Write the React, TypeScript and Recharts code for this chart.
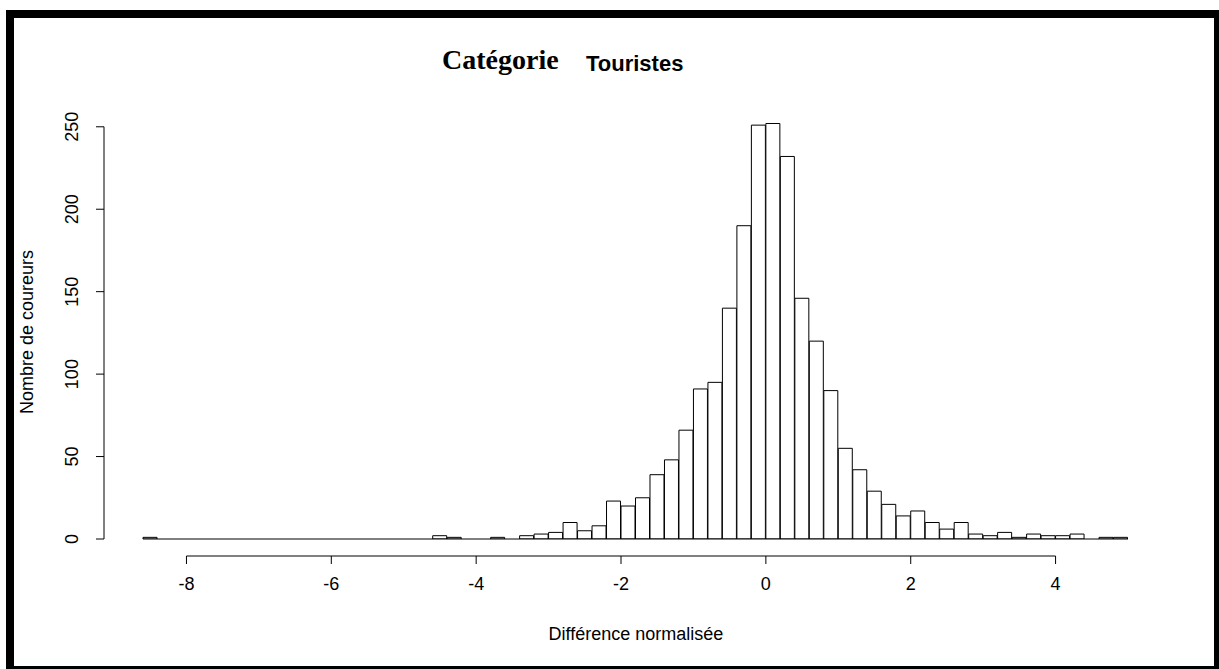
import { Bar, ComposedChart, ReferenceLine, XAxis, YAxis } from "recharts";

// histogram of normalised differences, bins of width 0.2 (lower edges)
const binStarts = [
  -8.6, -8.4, -8.2, -8.0, -7.8, -7.6, -7.4, -7.2, -7.0, -6.8, -6.6, -6.4, -6.2, -6.0, -5.8, -5.6, -5.4, -5.2, -5.0, -4.8,
  -4.6, -4.4, -4.2, -4.0, -3.8, -3.6, -3.4, -3.2, -3.0, -2.8, -2.6, -2.4, -2.2, -2.0, -1.8, -1.6, -1.4, -1.2, -1.0, -0.8,
  -0.6, -0.4, -0.2, 0.0, 0.2, 0.4, 0.6, 0.8, 1.0, 1.2, 1.4, 1.6, 1.8, 2.0, 2.2, 2.4, 2.6, 2.8, 3.0, 3.2,
  3.4, 3.6, 3.8, 4.0, 4.2, 4.4, 4.6, 4.8,
];
const counts = [
  1, 0, 0, 0, 0, 0, 0, 0, 0, 0, 0, 0, 0, 0, 0, 0, 0, 0, 0, 0,
  2, 1, 0, 0, 1, 0, 2, 3, 4, 10, 5, 8, 23, 20, 25, 39, 48, 66, 91, 95,
  140, 190, 251, 252, 232, 146, 120, 90, 55, 42, 29, 21, 14, 17, 10, 6, 10, 3, 2, 4,
  1, 3, 2, 2, 3, 0, 1, 1,
];
const xRange = [-8.6, 5.0];
const xTicks = [-8, -6, -4, -2, 0, 2, 4];
const yTicks = [0, 50, 100, 150, 200, 250];

const data = binStarts.map((b, i) => ({ bin: b, count: counts[i] }));

const SANS = "'Liberation Sans', Arial, Helvetica, sans-serif";

function XTick(props: any) {
  const { x, y, payload } = props;
  return (
    <text x={x} y={y + 24} textAnchor="middle" fontSize={18} fontFamily={SANS} fill="#000">
      {payload.value}
    </text>
  );
}

function YTick(props: any) {
  const { x, y, payload } = props;
  const bx = x - 16;
  return (
    <text x={bx} y={y} transform={`rotate(-90, ${bx}, ${y})`} textAnchor="middle" fontSize={18} fontFamily={SANS} fill="#000">
      {payload.value}
    </text>
  );
}

export default function App() {
  return (
    <div style={{ position: "fixed", left: 0, top: 0, width: 1219, height: 669, overflow: "hidden", background: "#fff" }}>
      <div
        style={{
          position: "absolute",
          left: 6,
          top: 10,
          width: 1216,
          height: 664,
          border: "8px solid #000",
          boxSizing: "border-box",
        }}
      />
      <div style={{ position: "absolute", left: 0, top: 0 }}>
        <ComposedChart width={1219} height={669} data={data} barCategoryGap={0} margin={{ top: 107, right: 52, bottom: 83, left: 44 }}>
          <XAxis xAxisId="bins" dataKey="bin" type="category" hide height={0} padding={{ left: 39, right: 39 }} />
          <XAxis
            xAxisId="num"
            dataKey="bin"
            type="number"
            domain={xRange}
            allowDataOverflow
            ticks={xTicks}
            padding={{ left: 39, right: 39 }}
            axisLine={false}
            tickLine={{ stroke: "#000" }}
            tickSize={8}
            tickMargin={2}
            height={30}
            tick={<XTick />}
          />
          <XAxis xAxisId="frame" dataKey="bin" type="number" domain={[0, 1]} allowDataOverflow hide height={0} />
          <YAxis
            yAxisId="count"
            type="number"
            domain={[0, 262]}
            allowDataOverflow
            ticks={yTicks}
            padding={{ top: 0, bottom: 17 }}
            axisLine={false}
            tickLine={{ stroke: "#000" }}
            tickSize={8}
            tickMargin={2}
            width={60}
            tick={<YTick />}
          />
          <YAxis yAxisId="frame" type="number" domain={[0, 1]} allowDataOverflow hide width={0} />
          <ReferenceLine
            xAxisId="num"
            yAxisId="count"
            segment={[{ x: xRange[0], y: 0 }, { x: xRange[1], y: 0 }]}
            stroke="#000"
            ifOverflow="visible"
          />
          <Bar xAxisId="bins" yAxisId="count" dataKey="count" fill="#fff" stroke="#000" strokeWidth={1} isAnimationActive={false} />
          <ReferenceLine
            xAxisId="num"
            yAxisId="frame"
            segment={[{ x: xTicks[0], y: 0 }, { x: xTicks[xTicks.length - 1], y: 0 }]}
            stroke="#000"
            ifOverflow="visible"
          />
          <ReferenceLine
            xAxisId="frame"
            yAxisId="count"
            segment={[{ x: 0, y: yTicks[0] }, { x: 0, y: yTicks[yTicks.length - 1] }]}
            stroke="#000"
            ifOverflow="visible"
          />
        </ComposedChart>
      </div>
      <svg width={1219} height={669} style={{ position: "absolute", left: 0, top: 0, pointerEvents: "none" }}>
        <text x={442} y={69} fontSize={28} fontWeight="bold" fontFamily="'Liberation Serif', 'Times New Roman', serif" fill="#000">
          Catégorie
        </text>
        <text x={586} y={71} fontSize={22} fontWeight="bold" fontFamily={SANS} fill="#000">
          Touristes
        </text>
        <text x={636} y={640} textAnchor="middle" fontSize={18} fontFamily={SANS} fill="#000">
          Différence normalisée
        </text>
        <text x={33} y={332} transform="rotate(-90, 33, 332)" textAnchor="middle" fontSize={18} fontFamily={SANS} fill="#000">
          Nombre de coureurs
        </text>
      </svg>
    </div>
  );
}
